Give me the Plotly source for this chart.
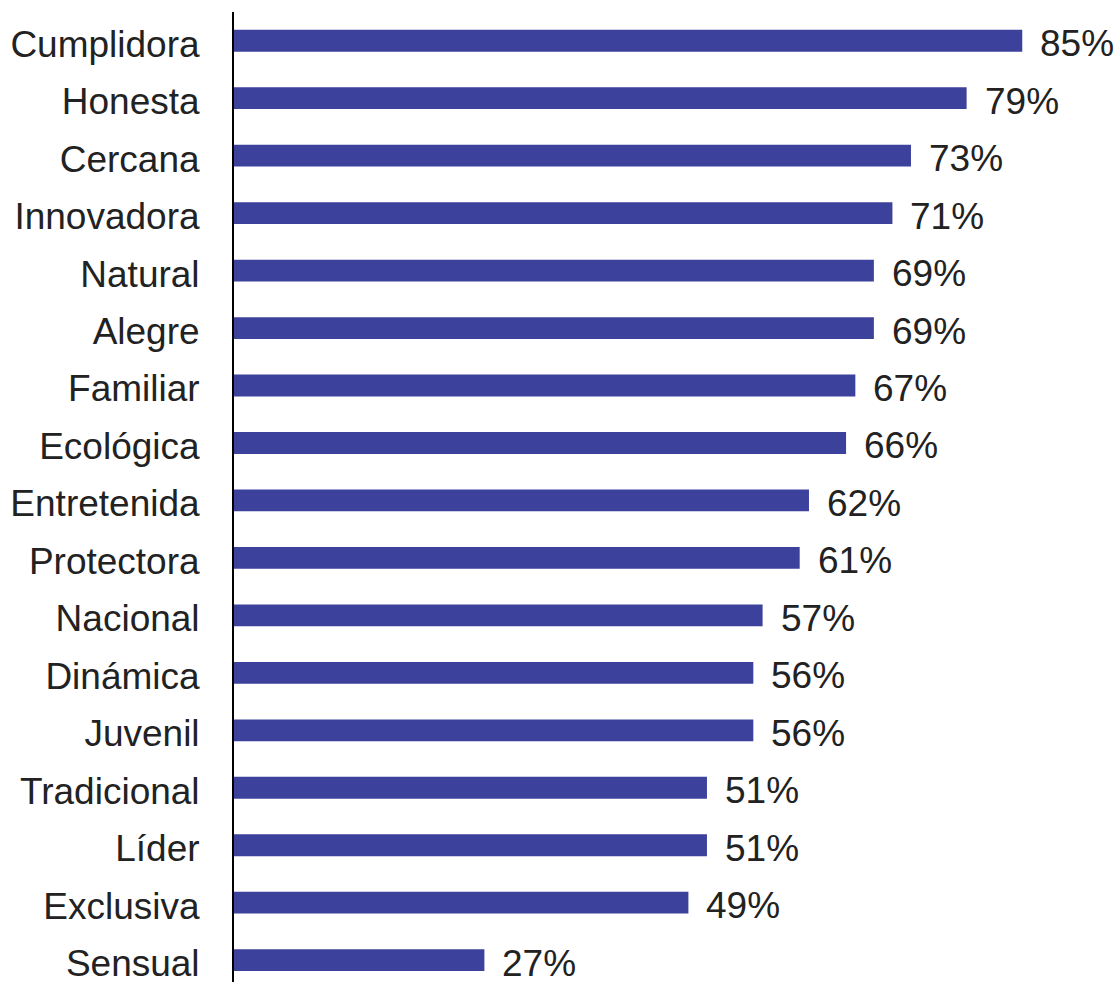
import plotly.graph_objects as go

# Brand attribute ratings (share of respondents, %)
atributos = ["Cumplidora", "Honesta", "Cercana", "Innovadora", "Natural", "Alegre",
             "Familiar", "Ecológica", "Entretenida", "Protectora", "Nacional",
             "Dinámica", "Juvenil", "Tradicional", "Líder", "Exclusiva", "Sensual"]
valores = [85, 79, 73, 71, 69, 69, 67, 66, 62, 61, 57, 56, 56, 51, 51, 49, 27]
etiquetas = [f"{v}%" for v in valores]

BAR_COLOR = "#3C419C"
TEXT_COLOR = "#222222"
FONT = "Liberation Sans, Arial, sans-serif"
FONT_SIZE = 37

fig = go.Figure(
    go.Bar(
        x=valores,
        y=atributos,
        orientation="h",
        width=0.38,
        marker=dict(color=BAR_COLOR, line=dict(width=0)),
        hoverinfo="skip",
    )
)

# Percentage labels just past the end of each bar
for cat, v, lab in zip(atributos, valores, etiquetas):
    fig.add_annotation(
        x=v, y=cat, text=lab, showarrow=False,
        xanchor="left", yanchor="middle", xshift=16, yshift=-3,
        font=dict(family=FONT, size=FONT_SIZE, color=TEXT_COLOR),
    )

fig.update_layout(
    width=1118,
    height=984,
    margin=dict(l=234, r=3, t=12, b=0),
    paper_bgcolor="white",
    plot_bgcolor="white",
    showlegend=False,
    font=dict(family=FONT, size=FONT_SIZE, color=TEXT_COLOR),
    xaxis=dict(range=[0, 95], visible=False, fixedrange=True),
    yaxis=dict(
        type="category",
        categoryorder="array",
        categoryarray=atributos,
        range=[16.38, -0.5],
        showline=True,
        linecolor="black",
        linewidth=2,
        showgrid=False,
        zeroline=False,
        ticks="",
        ticklabelstandoff=25,
        ticklabelshift=-3,
        tickfont=dict(family=FONT, size=FONT_SIZE, color=TEXT_COLOR),
        fixedrange=True,
    ),
)

fig.write_html("out.html")
